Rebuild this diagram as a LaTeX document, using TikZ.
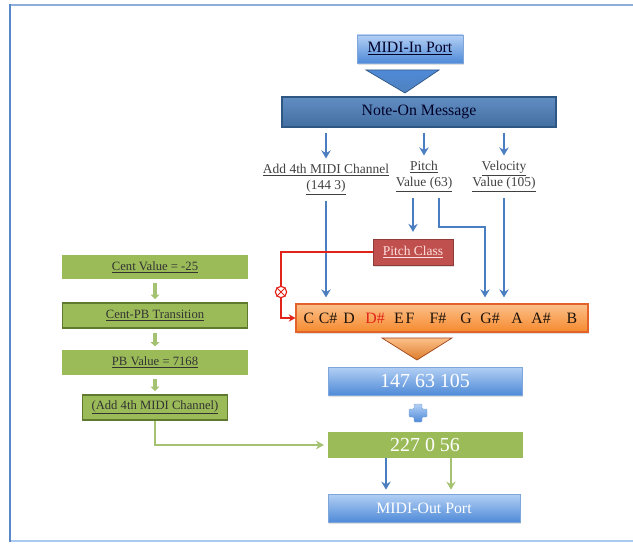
\documentclass[tikz,border=0pt]{standalone}
\usepackage{fontspec}
\setmainfont{Liberation Serif}
\usetikzlibrary{arrows.meta, shadows}
\definecolor{skyTop}{HTML}{B3D0F4}
\definecolor{skyBot}{HTML}{4F8AD8}
\definecolor{skyEdge}{HTML}{7FA6DA}
\definecolor{msgBlue}{HTML}{4F81BD}
\definecolor{msgEdge}{HTML}{2F5783}
\definecolor{arrBlue}{HTML}{4A7EC0}
\definecolor{leaf}{HTML}{9BBB59}
\definecolor{leafEdge}{HTML}{5F7A2E}
\definecolor{leafArr}{HTML}{A4C272}
\definecolor{tanTop}{HTML}{FCC08A}
\definecolor{tanBot}{HTML}{F58A2E}
\definecolor{tanEdge}{HTML}{E2622A}
\definecolor{brick}{HTML}{C0504D}
\definecolor{brickEdge}{HTML}{8E3B39}
\definecolor{hotRed}{HTML}{E2231A}
\definecolor{frameSide}{HTML}{5A89C8}
\definecolor{frameTop}{HTML}{8DADDA}
\definecolor{frameBot}{HTML}{A9C9EE}
\tikzset{
  box/.style={rectangle, inner sep=0pt, align=center},
  skybox/.style={box, top color=skyTop, bottom color=skyBot, draw=skyEdge, line width=0.6pt,
    drop shadow={opacity=0.25, shadow xshift=0.4mm, shadow yshift=-0.5mm}},
  leafbox/.style={box, fill=leaf, text=black!80, font=\fontsize{10.8}{12}\selectfont},
  leafdark/.style={leafbox, draw=leafEdge, line width=1pt},
  lbl/.style={align=center, inner sep=0pt, text=black!75, font=\fontsize{11.5}{14}\selectfont},
  keylbl/.style={inner sep=0pt, text=black!85!brown, font=\fontsize{13.5}{15}\selectfont},
  bluearr/.style={arrBlue, line width=1.6pt, -{Stealth[length=2.4mm, width=2.8mm]}},
  leafarr/.style={leafArr, line width=3pt, -{Triangle[length=1.3mm, width=2.6mm]}},
  redline/.style={hotRed, line width=1.3pt},
}
\begin{document}
\begin{tikzpicture}[x=0.3mm, y=-0.3mm]
    \useasboundingbox (0,0) rectangle (633,545);

    % frame
    \draw[frameTop, line width=2pt] (10,5) -- (640,5);
    \draw[frameBot, line width=1.5pt] (10,541) -- (640,541);
    \draw[frameSide, line width=2.5pt] (10,4) -- (10,542);

    % MIDI in
    \node[skybox, text=black!85!blue, font=\fontsize{13.5}{15}\selectfont,
          minimum width=31.8mm, minimum height=8.4mm] (midiin) at (410,49) {\underline{MIDI-In Port}};
    \shade[top color=skyBot, bottom color=msgBlue, draw=msgEdge, line width=0.6pt]
        (366,70) -- (439,70) -- (405,93) -- cycle;
    \node[box, top color=msgBlue!90!white, bottom color=msgBlue!85!black, draw=msgEdge, line width=1pt,
          text=black!85!blue, font=\fontsize{13.5}{15}\selectfont,
          minimum width=82.2mm, minimum height=9mm] (note) at (419,112) {Note-On Message};

    % fields of the message
    \node[lbl] (chan)  at (326,179.5) {\underline{Add 4th MIDI Channel}\\\underline{(144 3)}};
    \node[lbl] (pitch) at (424,176.5) {\underline{Pitch}\\\underline{Value (63)}};
    \node[lbl] (vel)   at (504,176.5) {\underline{Velocity}\\\underline{Value (105)}};
    \foreach \f in {chan, pitch, vel}
        \draw[bluearr, shorten <=1.5mm, shorten >=1.6mm] (note.south -| \f.north) -- (\f.north);

    % pitch class
    \node[box, fill=brick, draw=brickEdge, line width=0.8pt, text=red!12!white,
          font=\fontsize{11.5}{13}\selectfont, minimum width=24mm, minimum height=7.8mm,
          drop shadow={opacity=0.25, shadow xshift=0.4mm, shadow yshift=-0.5mm}] (pclass) at (413,252) {\underline{Pitch Class}};

    % keys
    \node[box, top color=tanTop, bottom color=tanBot, draw=tanEdge, line width=1pt,
          minimum width=87.6mm, minimum height=8.4mm,
          drop shadow={opacity=0.25, shadow xshift=0.4mm, shadow yshift=-0.5mm}] (bar) at (442,318) {};
    \foreach \nm/\xx in {C/309, C\#/328, D/349, E/399, F/410, F\#/438, G/466, G\#/490, A/517, A\#/541, B/572}
        \node[keylbl] (k\xx) at (\xx,318) {\nm};
    \node[keylbl, text=hotRed] (k375) at (375,318) {D\#};

    \draw[bluearr, shorten <=1.8mm, shorten >=1.8mm] (chan.south) -- (chan.south |- bar.north);
    \draw[bluearr, shorten <=1.8mm, shorten >=2mm] (pitch.south -| pclass.north) -- (pclass.north);
    \coordinate (pbend) at (485,227);
    \draw[bluearr, shorten <=1.8mm, shorten >=1.8mm] ([xshift=4.5mm]pitch.south) |- (pbend) -- (pbend |- bar.north);
    \draw[bluearr, shorten <=1.8mm, shorten >=1.8mm] (vel.south) -- (vel.south |- bar.north);

    % red path
    \node[circle, draw=hotRed, fill=white, line width=1pt, minimum size=3.4mm, inner sep=0pt] (cx) at (281,292) {};
    \draw[hotRed, line width=0.8pt] (cx.45) -- (cx.225) (cx.135) -- (cx.315);
    \draw[redline] (pclass.west) -| (cx.north);
    \draw[redline, -{Stealth[length=2mm, width=2.2mm]}] (cx.south) |- (bar.west);

    % result
    \shade[top color=tanTop, bottom color=tanBot!90!black, draw=tanEdge!70!black, line width=0.6pt]
        (382,338) -- (452,338) -- (417,360) -- cycle;
    \node[skybox, text=white, font=\fontsize{17}{19}\selectfont,
          minimum width=58.2mm, minimum height=8.4mm] (sum) at (425,381) {147 63 105};
    \shade[top color=skyTop, bottom color=skyBot, draw=skyEdge, line width=0.4pt, rounded corners=0.8pt]
        (414,404) -- (422,404) -- (422,409) -- (427,409) -- (427,417) -- (422,417)
        -- (422,422) -- (414,422) -- (414,417) -- (409,417) -- (409,409) -- (414,409) -- cycle;
    \node[box, fill=leaf, text=white, font=\fontsize{17}{19}\selectfont,
          minimum width=58.5mm, minimum height=7.8mm] (pb) at (425,445) {227 0 56};
    \node[skybox, text=white, font=\fontsize{13.5}{15}\selectfont,
          minimum width=57.6mm, minimum height=8.4mm] (midiout) at (424,508) {MIDI-Out Port};
    \draw[bluearr, shorten >=1.2mm] ([xshift=-11.7mm]pb.south) -- ([xshift=-11.4mm]midiout.north);
    \draw[leafArr, line width=1.6pt, -{Stealth[length=2.4mm, width=2.8mm]}, shorten >=1.2mm]
        ([xshift=7.8mm]pb.south) -- ([xshift=8.1mm]midiout.north);

    % pitch bend column
    \node[leafbox, minimum width=55.5mm, minimum height=7.2mm] (cent) at (155,267) {\underline{Cent Value = -25}};
    \node[leafdark, minimum width=55.5mm, minimum height=7.5mm] (centpb) at (155,315.5) {\underline{Cent-PB Transition}};
    \node[leafbox, minimum width=55.5mm, minimum height=7.5mm] (pbval) at (155,362.5) {\underline{PB Value = 7168}};
    \node[leafdark, minimum width=43.5mm, minimum height=7.5mm] (addch) at (155,407.5) {\underline{(Add 4th MIDI Channel)}};
    \draw[leafarr, shorten <=1.2mm, shorten >=1mm] (cent) -- (centpb);
    \draw[leafarr, shorten <=1.2mm, shorten >=1mm] (centpb) -- (pbval);
    \draw[leafarr, shorten <=1.2mm, shorten >=1mm] (pbval) -- (addch);
    \draw[leafArr, line width=1.8pt, -{Stealth[length=2.4mm, width=2.6mm]}, shorten >=1mm] (addch.south) |- (pb.west);
\end{tikzpicture}
\end{document}
